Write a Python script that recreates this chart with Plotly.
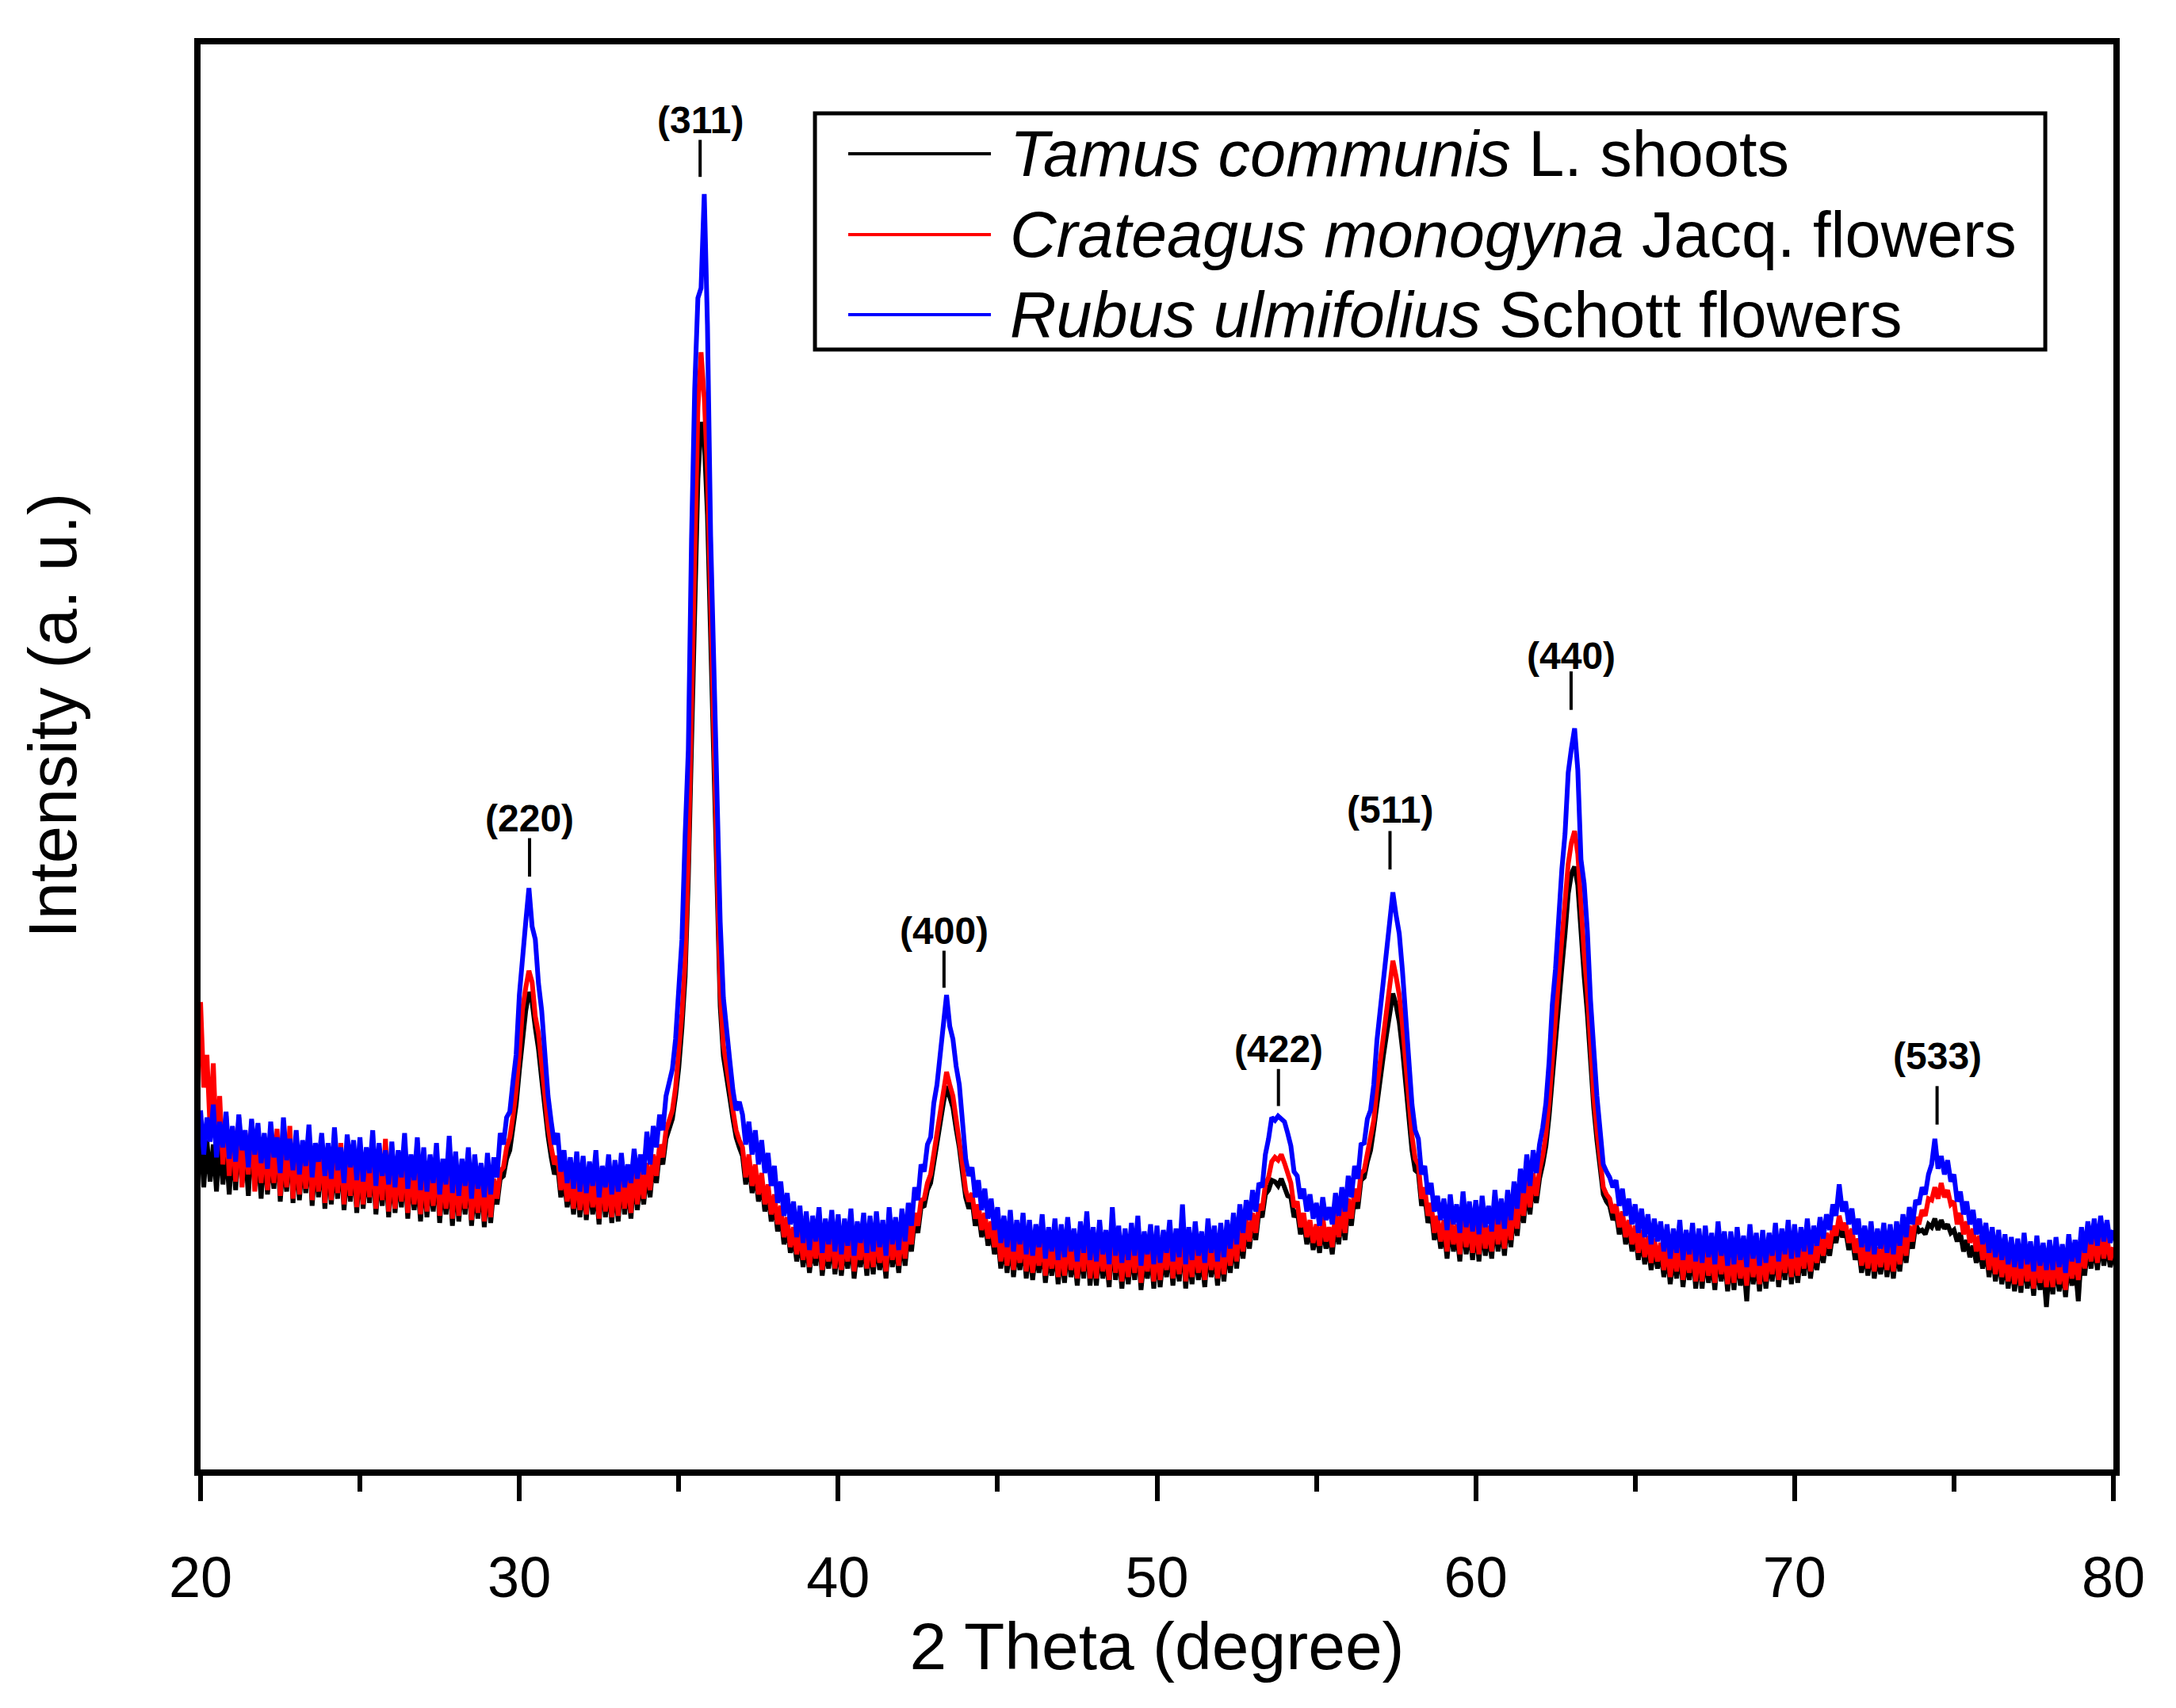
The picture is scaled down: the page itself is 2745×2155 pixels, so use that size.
import numpy as np
import plotly.graph_objects as go

# ---------------- data ----------------
SCAN_START = 20.0   # 2 theta of first point
SCAN_STEP = 0.1     # scan step (degree)

SERIES_NAMES = ["<i>Tamus communis</i> L. shoots",
                "<i>Crateagus monogyna</i> Jacq. flowers",
                "<i>Rubus ulmifolius</i> Schott flowers"]

TAMUS = [
    236, 198, 231, 202, 228, 195, 233, 200, 226, 193,
    229, 196, 234, 201, 225, 192, 236, 199, 222, 190,
    226, 193, 221, 197, 230, 188, 219, 195, 233, 187,
    222, 189, 218, 194, 226, 185, 216, 191, 224, 183,
    219, 186, 214, 190, 223, 182, 212, 188, 218, 180,
    216, 183, 211, 187, 220, 179, 209, 185, 214, 177,
    212, 180, 207, 184, 216, 176, 210, 182, 205, 174,
    209, 177, 204, 181, 213, 173, 202, 179, 207, 171,
    206, 174, 201, 179, 210, 171, 199, 176, 204, 170,
    201, 173, 198, 186, 204, 206, 218, 224, 240, 256,
    280, 305, 322, 335, 328, 310, 295, 274, 253, 234,
    219, 207, 213, 191, 205, 184, 200, 179, 203, 177,
    201, 175, 205, 179, 198, 172, 207, 177, 199, 173,
    202, 174, 206, 179, 200, 176, 209, 182, 204, 186,
    210, 191, 216, 201, 223, 214, 232, 239, 246, 262,
    282, 310, 346, 415, 505, 610, 695, 735, 722, 670,
    575, 495, 392, 325, 290, 273, 261, 246, 233, 226,
    220, 200, 216, 194, 209, 188, 203, 181, 195, 174,
    188, 167, 180, 158, 172, 152, 165, 146, 163, 142,
    161, 138, 158, 143, 165, 136, 156, 141, 163, 137,
    160, 136, 157, 141, 164, 134, 155, 142, 161, 136,
    159, 137, 163, 140, 156, 134, 165, 142, 158, 138,
    165, 143, 167, 153, 175, 166, 184, 185, 196, 201,
    216, 231, 244, 257, 269, 262, 254, 239, 226, 208,
    191, 183, 189, 171, 181, 163, 175, 157, 169, 151,
    165, 141, 159, 138, 163, 135, 157, 140, 161, 134,
    156, 133, 153, 138, 160, 131, 152, 136, 158, 130,
    154, 131, 159, 135, 151, 129, 156, 134, 163, 129,
    153, 129, 157, 134, 150, 128, 166, 133, 154, 127,
    152, 130, 155, 133, 160, 126, 149, 134, 155, 127,
    153, 128, 151, 135, 157, 129, 152, 132, 165, 127,
    152, 130, 156, 133, 150, 128, 158, 135, 153, 129,
    155, 132, 158, 138, 162, 141, 167, 148, 171, 155,
    175, 161, 181, 177, 193, 196, 203, 202, 199, 204,
    199, 192, 191, 177, 182, 165, 175, 158, 170, 154,
    167, 152, 172, 155, 165, 151, 175, 158, 179, 161,
    185, 171, 192, 183, 203, 205, 216, 224, 239, 258,
    272, 290, 305, 322, 334, 326, 314, 295, 270, 246,
    224, 210, 208, 185, 192, 173, 182, 161, 173, 155,
    170, 148, 174, 153, 167, 146, 176, 151, 169, 147,
    171, 146, 173, 150, 166, 148, 177, 153, 171, 150,
    177, 156, 182, 164, 190, 173, 199, 179, 203, 187,
    204, 214, 227, 248, 276, 296, 326, 352, 376, 404,
    418, 423, 410, 372, 346, 320, 284, 254, 231, 212,
    193, 188, 185, 175, 181, 165, 176, 158, 170, 153,
    166, 147, 163, 144, 159, 140, 157, 141, 154, 135,
    153, 130, 150, 134, 156, 128, 149, 133, 154, 127,
    151, 127, 153, 131, 147, 126, 155, 132, 149, 125,
    149, 126, 152, 129, 145, 118, 154, 130, 147, 125,
    150, 127, 148, 132, 155, 128, 151, 133, 157, 130,
    154, 131, 152, 136, 158, 134, 153, 140, 159, 145,
    161, 150, 166, 159, 172, 163, 168, 154, 164, 147,
    157, 138, 153, 136, 156, 134, 151, 137, 155, 135,
    154, 134, 156, 139, 161, 145, 166, 155, 172, 167,
    168, 165, 172, 170, 176, 168, 175, 169, 172, 166,
    168, 160, 166, 153, 161, 149, 157, 145, 154, 141,
    156, 135, 153, 132, 151, 130, 148, 127, 146, 125,
    145, 124, 149, 127, 143, 122, 147, 126, 142, 114,
    144, 123, 146, 125, 141, 121, 148, 129, 144, 118,
    153, 136, 157, 141, 159, 140, 161, 143, 158, 142,
    151,
]

CRATAEGUS = [
    328, 268, 291, 238, 285, 225, 262, 214, 248, 206,
    240, 202, 247, 198, 236, 207, 244, 195, 231, 201,
    233, 196, 228, 201, 239, 192, 226, 198, 241, 190,
    229, 193, 224, 197, 233, 189, 222, 195, 230, 187,
    226, 189, 221, 194, 229, 186, 219, 192, 224, 184,
    223, 186, 218, 191, 226, 183, 216, 189, 232, 181,
    220, 183, 214, 188, 223, 180, 217, 186, 212, 179,
    216, 181, 211, 185, 220, 178, 209, 183, 214, 176,
    213, 178, 208, 183, 217, 175, 206, 180, 211, 174,
    208, 177, 204, 190, 209, 212, 226, 233, 248, 266,
    292, 323, 338, 350, 342, 318, 306, 283, 262, 241,
    226, 214, 220, 196, 211, 188, 205, 183, 209, 182,
    206, 179, 210, 184, 203, 176, 212, 181, 204, 177,
    207, 178, 211, 183, 205, 180, 214, 186, 209, 190,
    215, 196, 221, 206, 228, 219, 238, 245, 252, 268,
    290, 320, 358, 430, 534, 648, 745, 784, 752, 700,
    600, 520, 405, 335, 298, 280, 268, 252, 238, 231,
    226, 205, 221, 199, 214, 193, 208, 186, 200, 179,
    193, 172, 185, 163, 177, 156, 170, 151, 168, 147,
    166, 142, 163, 148, 170, 140, 161, 146, 168, 141,
    165, 140, 162, 146, 169, 139, 160, 147, 166, 141,
    164, 142, 168, 145, 161, 139, 170, 147, 163, 143,
    170, 148, 172, 158, 180, 171, 189, 190, 201, 207,
    222, 238, 252, 266, 279, 270, 262, 246, 232, 214,
    196, 188, 194, 176, 186, 168, 180, 162, 174, 156,
    170, 146, 164, 143, 168, 140, 162, 145, 166, 139,
    161, 138, 158, 143, 165, 136, 157, 141, 163, 135,
    159, 136, 164, 140, 156, 134, 161, 139, 168, 134,
    158, 134, 162, 139, 155, 133, 171, 138, 159, 132,
    157, 135, 160, 138, 165, 131, 154, 139, 160, 132,
    158, 133, 156, 140, 162, 134, 157, 137, 170, 132,
    157, 135, 161, 138, 155, 133, 163, 140, 158, 134,
    160, 137, 163, 143, 167, 146, 172, 153, 176, 160,
    180, 166, 186, 182, 200, 205, 216, 219, 217, 221,
    215, 207, 201, 184, 188, 170, 180, 163, 175, 159,
    172, 157, 177, 160, 170, 156, 180, 163, 184, 166,
    190, 176, 197, 188, 208, 210, 222, 230, 245, 268,
    285, 305, 322, 340, 357, 346, 333, 312, 285, 258,
    234, 218, 214, 190, 198, 178, 187, 166, 178, 160,
    175, 153, 179, 158, 172, 151, 181, 156, 174, 152,
    176, 151, 178, 155, 171, 153, 182, 158, 176, 155,
    182, 161, 187, 169, 195, 178, 204, 184, 208, 192,
    210, 220, 235, 258, 290, 312, 345, 372, 396, 425,
    440, 448, 432, 390, 362, 335, 295, 262, 238, 218,
    198, 193, 190, 180, 186, 170, 181, 163, 175, 158,
    171, 152, 168, 149, 164, 145, 162, 146, 159, 140,
    158, 135, 155, 139, 161, 133, 154, 138, 159, 132,
    156, 132, 158, 136, 152, 131, 160, 137, 154, 130,
    154, 131, 157, 134, 150, 129, 159, 135, 152, 130,
    155, 132, 153, 137, 160, 133, 156, 138, 162, 135,
    159, 136, 157, 141, 163, 139, 158, 145, 164, 150,
    166, 155, 171, 164, 178, 168, 173, 159, 169, 152,
    162, 143, 158, 141, 161, 139, 156, 142, 160, 140,
    159, 139, 161, 144, 166, 150, 171, 160, 177, 172,
    182, 178, 190, 189, 198, 190, 201, 191, 196, 186,
    188, 172, 180, 165, 174, 159, 169, 153, 164, 147,
    161, 140, 158, 137, 156, 135, 153, 132, 151, 130,
    150, 129, 154, 132, 148, 127, 152, 131, 147, 128,
    149, 128, 151, 130, 146, 126, 153, 134, 149, 133,
    158, 141, 162, 146, 164, 145, 166, 148, 163, 147,
    156,
]

RUBUS = [
    252, 221, 247, 230, 256, 219, 244, 226, 251, 218,
    241, 216, 249, 224, 238, 212, 246, 221, 243, 215,
    236, 211, 244, 219, 233, 208, 247, 217, 232, 210,
    238, 207, 231, 213, 242, 205, 229, 216, 236, 206,
    229, 204, 240, 210, 226, 201, 235, 212, 231, 203,
    233, 202, 226, 208, 238, 199, 229, 206, 224, 200,
    230, 198, 224, 205, 236, 197, 221, 203, 233, 196,
    226, 195, 221, 201, 229, 193, 218, 200, 234, 194,
    223, 192, 218, 199, 226, 190, 221, 197, 215, 191,
    222, 193, 219, 205, 236, 228, 247, 251, 272, 291,
    333, 362, 384, 408, 381, 372, 341, 322, 288, 262,
    244, 228, 236, 209, 224, 201, 219, 197, 223, 195,
    220, 194, 216, 199, 224, 191, 213, 198, 221, 193,
    217, 195, 222, 198, 214, 201, 225, 204, 221, 207,
    237, 214, 241, 226, 249, 238, 262, 270, 281, 302,
    338, 372, 445, 505, 652, 758, 822, 829, 895, 803,
    655, 562, 458, 384, 331, 306, 287, 266, 252, 258,
    249, 228, 244, 221, 238, 214, 231, 208, 222, 199,
    213, 187, 202, 178, 194, 172, 188, 163, 185, 159,
    181, 154, 178, 160, 184, 152, 176, 158, 182, 153,
    179, 151, 176, 157, 183, 150, 174, 159, 180, 152,
    178, 153, 181, 156, 175, 150, 184, 158, 177, 154,
    183, 160, 187, 171, 198, 189, 214, 209, 228, 233,
    257, 270, 292, 308, 333, 311, 302, 283, 270, 244,
    218, 206, 212, 191, 203, 182, 197, 176, 190, 168,
    184, 159, 178, 156, 182, 153, 175, 158, 180, 151,
    175, 150, 172, 156, 179, 148, 170, 153, 176, 147,
    172, 149, 177, 153, 169, 146, 174, 152, 181, 147,
    170, 146, 175, 151, 168, 144, 184, 150, 171, 145,
    169, 147, 173, 150, 178, 143, 167, 151, 172, 144,
    171, 145, 168, 152, 175, 146, 169, 149, 186, 144,
    170, 147, 174, 150, 167, 145, 176, 152, 171, 146,
    173, 149, 175, 155, 180, 158, 186, 166, 189, 175,
    196, 181, 201, 198, 221, 232, 247, 245, 248, 246,
    244, 236, 227, 209, 206, 190, 197, 181, 193, 176,
    187, 171, 191, 175, 184, 172, 194, 178, 198, 181,
    206, 191, 213, 204, 228, 229, 246, 252, 270, 301,
    322, 341, 362, 378, 405, 389, 376, 350, 317, 282,
    256, 238, 232, 207, 213, 193, 201, 181, 192, 175,
    190, 168, 193, 172, 186, 166, 195, 170, 188, 167,
    189, 165, 192, 170, 185, 167, 196, 172, 190, 169,
    196, 175, 202, 183, 211, 194, 221, 199, 224, 208,
    228, 240, 257, 286, 326, 351, 391, 421, 446, 489,
    506, 520, 491, 428, 411, 378, 329, 291, 262, 238,
    214, 209, 205, 198, 203, 185, 197, 178, 190, 172,
    186, 166, 183, 163, 179, 158, 176, 160, 174, 153,
    172, 148, 169, 152, 175, 147, 168, 151, 173, 146,
    169, 145, 171, 149, 166, 144, 174, 150, 167, 143,
    167, 144, 170, 147, 164, 142, 172, 148, 166, 143,
    168, 145, 166, 150, 173, 146, 169, 151, 175, 148,
    172, 149, 170, 153, 176, 151, 171, 157, 177, 162,
    179, 168, 186, 178, 200, 181, 188, 172, 183, 165,
    176, 156, 171, 153, 174, 151, 169, 155, 173, 152,
    172, 151, 174, 157, 179, 163, 184, 172, 189, 186,
    198, 193, 207, 214, 232, 211, 220, 207, 217, 202,
    207, 188, 195, 179, 188, 172, 182, 165, 176, 158,
    173, 152, 170, 149, 168, 147, 165, 144, 163, 142,
    162, 141, 166, 144, 160, 139, 164, 143, 159, 140,
    161, 140, 163, 142, 158, 138, 165, 146, 161, 145,
    170, 152, 174, 158, 176, 157, 178, 160, 175, 159,
    168,
]

PEAK_LABELS = ["(220)", "(311)", "(400)", "(422)", "(511)", "(440)", "(533)"]
PEAK_ANGLES = [30.32, 35.67, 43.32, 53.81, 57.31, 62.99, 74.47]
# marker bar (bottom, top) and label centre, in intensity units
PEAK_BAR_LOW = [416, 907, 338, 255, 421, 533, 242]
PEAK_BAR_HIGH = [443, 933, 364, 281, 448, 560, 269]
PEAK_LABEL_Y = [457, 947, 378, 295, 463, 571, 290]

X_TICKS = [20, 30, 40, 50, 60, 70, 80]

X_TITLE = "2 Theta (degree)"
Y_TITLE = "Intensity (a. u.)"

# ---------------- figure ----------------
n = len(RUBUS)
assert len(TAMUS) == n and len(CRATAEGUS) == n
two_theta = np.round(SCAN_START + SCAN_STEP * np.arange(n), 2)

COLORS = ["#000000", "#ff0000", "#0000ff"]
FONT = "Liberation Sans, Arial, sans-serif"

fig = go.Figure()
for name, vals, col in zip(SERIES_NAMES, [TAMUS, CRATAEGUS, RUBUS], COLORS):
    fig.add_trace(go.Scatter(x=two_theta, y=vals, mode="lines", name=name,
                             line=dict(color=col, width=6), showlegend=False))

# peak labels
for lab, ang, lo, hi, ly in zip(PEAK_LABELS, PEAK_ANGLES, PEAK_BAR_LOW, PEAK_BAR_HIGH, PEAK_LABEL_Y):
    fig.add_shape(type="line", xref="x", yref="y", x0=ang, x1=ang, y0=lo, y1=hi,
                  line=dict(color="black", width=4))
    fig.add_annotation(x=ang, y=ly, xref="x", yref="y", text="<b>%s</b>" % lab,
                       showarrow=False, font=dict(family=FONT, size=48, color="black"),
                       xanchor="center", yanchor="middle")

# manual legend (long sample lines as in the original)
fig.add_shape(type="rect", xref="paper", yref="paper", x0=0.3212, x1=0.9644,
              y0=0.7859, y1=0.9516, line=dict(color="black", width=5), fillcolor="white",
              layer="above")
leg_y = [0.9232, 0.8665, 0.8103]
for name, col, yy in zip(SERIES_NAMES, COLORS, leg_y):
    fig.add_shape(type="line", xref="paper", yref="paper", x0=0.3386, x1=0.4132,
                  y0=yy, y1=yy, line=dict(color=col, width=4), layer="above")
    fig.add_annotation(x=0.4225, y=yy, xref="paper", yref="paper", text=name,
                       showarrow=False, xanchor="left", yanchor="middle",
                       font=dict(family=FONT, size=81, color="black"))

# y-axis title (placed a bit above the plot centre, as in the original)
fig.add_annotation(x=-0.0771, y=0.529, xref="paper", yref="paper", text=Y_TITLE,
                   textangle=-90, showarrow=False, xanchor="center", yanchor="middle",
                   font=dict(family=FONT, size=85, color="black"))

W, H = 2729, 2137
fig.update_layout(
    width=W, height=H, autosize=False,
    margin=dict(l=245, r=71, t=48, b=291, pad=0),
    paper_bgcolor="white", plot_bgcolor="white",
    font=dict(family=FONT, color="black"),
    showlegend=False,
    xaxis=dict(range=[20, 80], tickvals=X_TICKS, ticktext=[str(t) for t in X_TICKS],
               showgrid=False, zeroline=False,
               showline=True, linecolor="black", linewidth=8, mirror=True,
               ticks="outside", ticklen=32, tickwidth=6, tickcolor="black",
               ticklabelstandoff=35,
               tickfont=dict(family=FONT, size=72, color="black"),
               minor=dict(dtick=5, tick0=0, ticks="outside", ticklen=20, tickwidth=6,
                          tickcolor="black", showgrid=False),
               title=dict(text=X_TITLE, standoff=20,
                          font=dict(family=FONT, size=84, color="black"))),
    yaxis=dict(range=[0, 1000], showticklabels=False, ticks="",
               showgrid=False, zeroline=False,
               showline=True, linecolor="black", linewidth=8, mirror=True),
)

fig.write_html("out.html")
